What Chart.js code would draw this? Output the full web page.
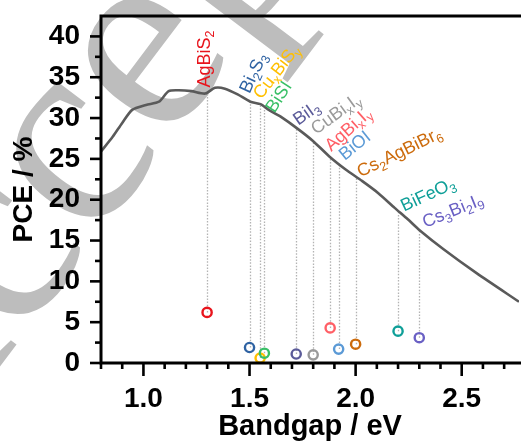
<!DOCTYPE html>
<html><head><meta charset="utf-8">
<style>html,body{margin:0;padding:0;background:#fff;overflow:hidden}#wrap{width:526px;height:441px;position:relative}</style>
<script src="https://cdn.jsdelivr.net/npm/chart.js@4.4.0/dist/chart.umd.min.js"></script>
</head><body><div id="wrap"><canvas id="c" width="526" height="441"></canvas></div>
<script>
// Shockley–Queisser limit curve
const limitX = [0.80,0.855,0.90,0.947,1.012,1.073,1.119,1.166,1.226,1.291,1.337,1.384,1.444,1.504,1.552,1.585,1.617,1.645,1.721,1.799,1.876,1.953,2.03,2.107,2.184,2.246,2.30,2.416,2.57,2.77];
const limitY = [25.9,27.7,29.4,31.0,31.6,32.0,33.3,33.4,33.3,33.0,33.7,33.6,32.9,32.0,31.7,31.1,30.6,30.2,28.8,27.2,25.3,23.7,22.3,20.8,19.0,17.6,16.3,13.9,11.0,7.5];
// Materials
const materials = ['AgBiS_2','Bi_2S_3','Cu_xBiS_y','BiSI','BiI_3','CuBi_xI_y','AgBi_xI_y','BiOI','Cs_2AgBiBr_6','BiFeO_3','Cs_3Bi_2I_9'];
const bandgaps  = [1.30,1.50,1.55,1.57,1.72,1.80,1.88,1.92,2.00,2.20,2.30];
const pce       = [6.2,1.9,0.6,1.2,1.1,1.0,4.3,1.7,2.3,3.9,3.1];
const colors    = ['#e8141c','#2f63a3','#ffbf00','#38bf66','#5b5b99','#9a9a9a','#ff5f66','#5b9ad6','#cc6b0c','#0f9f98','#6a60c4'];
// Ticks
const xTickValues = [0.8,0.9,1.0,1.1,1.2,1.3,1.4,1.5,1.6,1.7,1.8,1.9,2.0,2.1,2.2,2.3,2.4,2.5,2.6,2.7];
const xMajorValues = [1.0,1.5,2.0,2.5];
const xMajorLabels = ['1.0','1.5','2.0','2.5'];
const yTickValues = [0,2.5,5,7.5,10,12.5,15,17.5,20,22.5,25,27.5,30,32.5,35,37.5,40];
const yMajorValues = [0,5,10,15,20,25,30,35,40];
const yMajorLabels = ['0','5','10','15','20','25','30','35','40'];

// label placement (pixel offsets from curve point, rotation in degrees)
const labelStyle = [
  {dx:3,dy:-5,a:-90},{dx:0,dy:-7,a:-65},{dx:1,dy:-4,a:-52},{dx:10,dy:7,a:-57},
  {dx:2,dy:-2,a:-35},{dx:3,dy:-6,a:-36},{dx:1,dy:-5,a:-42},{dx:6,dy:-3,a:-39},
  {dx:5,dy:1,a:-26},{dx:6,dy:1,a:-25},{dx:6,dy:-2,a:-22}
];

function curveAt(x){
  for(let i=0;i<limitX.length-1;i++){
    if(x>=limitX[i] && x<=limitX[i+1]){
      const t=(x-limitX[i])/(limitX[i+1]-limitX[i]);
      return limitY[i]+t*(limitY[i+1]-limitY[i]);
    }
  }
  return limitY[limitY.length-1];
}
function findLabel(v, vals, labels){
  for(let i=0;i<vals.length;i++) if(Math.abs(vals[i]-v)<1e-6) return labels[i];
  return null;
}
function drawRich(ctx,text,x,y,angle,color){
  ctx.save();
  ctx.translate(x,y); ctx.rotate(angle*Math.PI/180);
  ctx.fillStyle=color; ctx.textBaseline='alphabetic'; ctx.textAlign='left';
  let cx=0;
  for(let i=0;i<text.length;i++){
    let ch=text[i], sub=false;
    if(ch==='_'){sub=true; ch=text[++i];}
    ctx.font = sub ? '12.5px "Liberation Sans", Arial, sans-serif' : '18px "Liberation Sans", Arial, sans-serif';
    ctx.fillText(ch,cx,sub?4:0);
    cx+=ctx.measureText(ch).width;
  }
  ctx.restore();
}

const watermark = {
  id:'watermark',
  beforeDraw(chart){
    const ctx=chart.ctx; ctx.save();
    const size=275, ang=-53*Math.PI/180;
    ctx.font=size+'px "Liberation Serif", "Times New Roman", serif';
    const along=ctx.measureText('Acc').width+ctx.measureText('e').width/2;
    const up=0.225*size;
    const u=[Math.cos(ang),Math.sin(ang)], v=[Math.sin(ang),-Math.cos(ang)];
    const T=[152,62];
    const ox=T[0]-along*u[0]-up*v[0], oy=T[1]-along*u[1]-up*v[1];
    ctx.fillStyle='#bdbdbd';
    ctx.translate(ox,oy); ctx.rotate(ang);
    ctx.textBaseline='alphabetic';
    ctx.fillText('Accepted Manuscript',0,0);
    ctx.restore();
  }
};
const dropLines = {
  id:'dropLines',
  beforeDatasetsDraw(chart){
    const ctx=chart.ctx, xs=chart.scales.x, ys=chart.scales.y;
    ctx.save();
    ctx.strokeStyle='#b3b3b3'; ctx.lineWidth=1.3; ctx.setLineDash([1.5,1.6]);
    bandgaps.forEach((bg,i)=>{
      const px=Math.round(xs.getPixelForValue(bg))+0.5;
      ctx.beginPath();
      ctx.moveTo(px, ys.getPixelForValue(pce[i]));
      ctx.lineTo(px, ys.getPixelForValue(curveAt(bg)));
      ctx.stroke();
    });
    ctx.restore();
  }
};
const frame = {
  id:'frame',
  afterDatasetsDraw(chart){
    const ctx=chart.ctx, a=chart.chartArea, xs=chart.scales.x, ys=chart.scales.y;
    materials.forEach((m,i)=>{
      const px=xs.getPixelForValue(bandgaps[i]);
      const py=ys.getPixelForValue(curveAt(bandgaps[i]));
      const s=labelStyle[i];
      drawRich(ctx,m,px+s.dx,py+s.dy,s.a,colors[i]);
    });
    ctx.save();
    ctx.strokeStyle='#000'; ctx.lineCap='butt';
    ctx.lineWidth=2.6;
    xTickValues.forEach(v=>{
      const p=xs.getPixelForValue(v);
      const major=findLabel(v,xMajorValues,xMajorLabels)!==null;
      ctx.beginPath(); ctx.moveTo(p,a.bottom); ctx.lineTo(p,a.bottom+(major?13:6)); ctx.stroke();
    });
    yTickValues.forEach(v=>{
      const p=ys.getPixelForValue(v);
      const major=findLabel(v,yMajorValues,yMajorLabels)!==null;
      ctx.beginPath(); ctx.moveTo(a.left,p); ctx.lineTo(a.left-(major?11:6),p); ctx.stroke();
    });
    ctx.lineWidth=3;
    ctx.beginPath();
    ctx.moveTo(a.right+2,a.top); ctx.lineTo(a.left,a.top); ctx.lineTo(a.left,a.bottom); ctx.lineTo(a.right+2,a.bottom);
    ctx.stroke();
    ctx.restore();
  }
};

const tickFont={family:'"Liberation Sans", Arial, sans-serif',size:28,weight:'bold',lineHeight:1};
new Chart(document.getElementById('c'),{
  type:'scatter',
  data:{datasets:[
    {type:'scatter',data:bandgaps.map((b,i)=>({x:b,y:pce[i]})),pointRadius:4.6,pointBorderWidth:2.4,
     pointBorderColor:colors,pointBackgroundColor:'rgba(255,255,255,0)',clip:false,order:0},
    {type:'line',data:limitX.map((x,i)=>({x:x,y:limitY[i]})),borderColor:'#5a5a5a',borderWidth:2.6,
     pointRadius:0,tension:0.25,fill:false,order:1}
  ]},
  options:{
    responsive:false,animation:false,devicePixelRatio:1,
    layout:{padding:{left:0,top:16,right:0,bottom:0}},
    plugins:{legend:{display:false},tooltip:{enabled:false}},
    scales:{
      x:{type:'linear',min:0.8,max:2.77,
        grid:{display:false,drawTicks:false},border:{display:false},
        afterBuildTicks(s){s.ticks=xTickValues.map(v=>({value:v}));},
        afterFit(s){s.height=78; s.paddingLeft=0; s.paddingRight=0; s.paddingTop=0; s.paddingBottom=0;},
        ticks:{padding:22,color:'#000',font:tickFont,maxRotation:0,autoSkip:false,
          callback:(v)=>findLabel(v,xMajorValues,xMajorLabels)},
        title:{display:true,text:'Bandgap / eV',color:'#000',padding:{top:0,bottom:0},
          font:{family:'"Liberation Sans", Arial, sans-serif',size:29,weight:'bold',lineHeight:1}}
      },
      y:{type:'linear',min:0,max:42.5,
        grid:{display:false,drawTicks:false},border:{display:false},
        afterBuildTicks(s){s.ticks=yTickValues.map(v=>({value:v}));},
        afterFit(s){s.width=101; s.paddingLeft=0; s.paddingRight=0; s.paddingTop=0; s.paddingBottom=0;},
        ticks:{padding:21,color:'#000',font:tickFont,autoSkip:false,
          callback:(v)=>findLabel(v,yMajorValues,yMajorLabels)},
        title:{display:true,text:'PCE / %',color:'#000',padding:{top:10,bottom:0},
          font:{family:'"Liberation Sans", Arial, sans-serif',size:28,weight:'bold',lineHeight:1}}
      }
    }
  },
  plugins:[watermark,dropLines,frame]
});
</script></body></html>
